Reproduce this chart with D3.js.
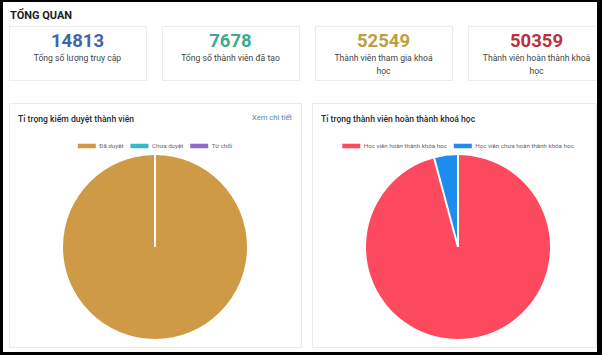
<!DOCTYPE html>
<html><head><meta charset="utf-8">
<script src="https://cdn.jsdelivr.net/npm/d3@7"></script>
<style>html,body{margin:0;padding:0;background:#000;}svg{display:block;font-family:Roboto,"Noto Sans",sans-serif;}</style>
</head><body>
<svg id="c" width="602" height="355"></svg>
<script>
const statValues = [14813, 7678, 52549, 50359];
const statLabels = [["Tổng số lượng truy cập"], ["Tổng số thành viên đã tạo"], ["Thành viên tham gia khoá", "học"], ["Thành viên hoàn thành khoá", "học"]];
const statColors = ["#3e66aa", "#3eaa8c", "#bba03c", "#b7323d"];

const approvalCategories = ["Đã duyệt", "Chưa duyệt", "Từ chối"];
const approvalValues = [7678, 0, 0];
const approvalColors = ["#cf9a46", "#36b9cc", "#8c6ec8"];

const completionCategories = ["Học viên hoàn thành khóa học", "Học viên chưa hoàn thành khóa học"];
const completionValues = [50359, 2190];
const completionColors = ["#fd4a5e", "#1f8cf0"];

const svg = d3.select("#c");
svg.append("rect").attr("x", 3).attr("y", 2).attr("width", 594).attr("height", 350).attr("fill", "#fff");

svg.append("text").attr("x", 10).attr("y", 19).text("TỔNG QUAN")
  .attr("font-size", 11).attr("font-weight", 700).attr("fill", "#222");

// stat cards
const cardX = d3.scaleBand().domain(d3.range(4)).range([9, 605]).paddingInner(0.105).paddingOuter(0);
const statG = svg.append("g");
statValues.forEach((v, i) => {
  const x = cardX(i), w = cardX.bandwidth();
  statG.append("rect").attr("x", x + 0.5).attr("y", 26.5).attr("width", w).attr("height", 54)
    .attr("fill", "#fff").attr("stroke", "#ececec");
  statG.append("text").attr("x", x + w / 2).attr("y", 46.5).attr("text-anchor", "middle")
    .attr("font-size", 18.5).attr("font-weight", 700).attr("fill", statColors[i]).text(v);
  statLabels[i].forEach((l, j) => {
    statG.append("text").attr("x", x + w / 2).attr("y", 60.5 + j * 13).attr("text-anchor", "middle")
      .attr("font-size", 8.6).attr("fill", "#444").text(l);
  });
});
// right black frame covers overflow of last card
svg.append("rect").attr("x", 597).attr("y", 0).attr("width", 5).attr("height", 355).attr("fill", "#000");

// panels
const panels = [
  {x: 9, w: 292, title: "Tỉ trọng kiểm duyệt thành viên", link: "Xem chi tiết", cx: 155, cats: approvalCategories, vals: approvalValues, cols: approvalColors},
  {x: 312, w: 284, title: "Tỉ trọng thành viên hoàn thành khoá học", link: null, cx: 458, cats: completionCategories, vals: completionValues, cols: completionColors}
];
const pieY = 247, R = 92;
panels.forEach(p => {
  svg.append("rect").attr("x", p.x + 0.5).attr("y", 103.5).attr("width", p.w).attr("height", 244)
    .attr("fill", "#fff").attr("stroke", "#ebebeb");
  svg.append("text").attr("x", p.x + 9).attr("y", 122).attr("font-size", 8.6).attr("font-weight", 500)
    .attr("fill", "#2a2a2a").text(p.title);
  if (p.link) svg.append("text").attr("x", p.x + p.w - 9).attr("y", 120).attr("text-anchor", "end")
    .attr("font-size", 7.6).attr("fill", "#5b7cc4").text(p.link);

  // legend
  const lg = svg.append("g");
  let cur = 0;
  const boxW = 18, boxH = 4.5, gapT = 3.5, gapI = 7;
  p.cats.forEach((c, i) => {
    const g = lg.append("g").attr("transform", `translate(${cur},0)`);
    g.append("rect").attr("x", 0).attr("y", -boxH / 2).attr("width", boxW).attr("height", boxH).attr("fill", p.cols[i]);
    const t = g.append("text").attr("x", boxW + gapT).attr("y", 2).attr("font-size", 6.2).attr("fill", "#666").text(c);
    cur += boxW + gapT + t.node().getComputedTextLength() + gapI;
  });
  const total = cur - gapI;
  lg.attr("transform", `translate(${p.cx - total / 2},146)`);

  // pie
  const pie = d3.pie().sort(null).value(d => d)(p.vals);
  const arc = d3.arc().innerRadius(0).outerRadius(R);
  const pg = svg.append("g").attr("transform", `translate(${p.cx},${pieY})`);
  pg.selectAll("path.s").data(pie.filter(d => d.endAngle > d.startAngle)).join("path")
    .attr("d", arc).attr("fill", (d) => p.cols[d.index]);
  const boundaries = Array.from(new Set(pie.map(d => d.startAngle).concat(pie.map(d => d.endAngle)).map(a => +(a % (2 * Math.PI)).toFixed(6))));
  pg.selectAll("line.b").data(boundaries).join("line")
    .attr("x1", 0).attr("y1", 0)
    .attr("x2", a => R * Math.sin(a)).attr("y2", a => -R * Math.cos(a))
    .attr("stroke", "#fff").attr("stroke-width", 2);
});
</script>
</body></html>
